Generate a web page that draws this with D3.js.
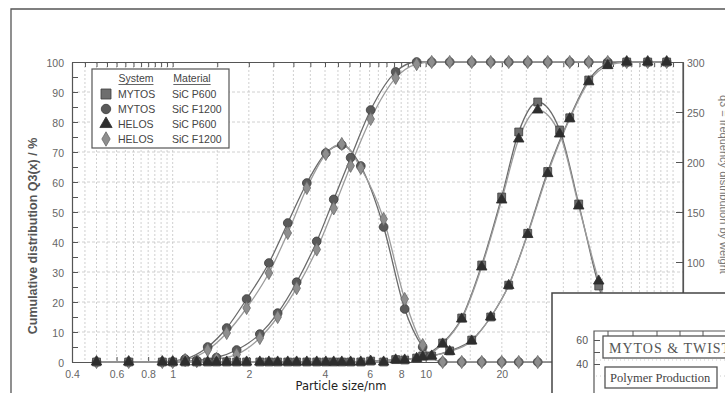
<!DOCTYPE html>
<html>
<head>
<meta charset="utf-8">
<script src="https://cdn.jsdelivr.net/npm/d3@7"></script>
<style>
  body { margin: 0; background: #fff; }
  svg { display: block; font-family: "Liberation Sans", Arial, sans-serif; }
</style>
</head>
<body>
<svg id="chart" width="725" height="393"></svg>
<script>
// particle sizes (nm) of the measuring classes
const densSizes = [0.50, 0.67, 0.91, 1.12, 1.375, 1.635, 1.96, 2.40, 2.85, 3.39, 4.03, 4.66, 5.54, 6.82,
  8.26, 9.73, 11.67, 13.88, 16.65, 19.97, 23.32, 27.72, 33.85, 40.25, 48.3, 57.5, 68.5, 81.5, 97];
const cumSizes = [1.0, 1.245, 1.49, 1.79, 2.21, 2.60, 3.09, 3.71, 4.33, 5.05, 6.06, 7.61, 9.21,
  10.56, 12.44, 15.2, 18.07, 21.29, 25.31, 30.36, 37.09, 44.1, 52.42, 62.31, 75.43, 89.65];

// cumulative distribution Q3 (%), left axis
const cumMytosP600  = [0, 0, 0, 0, 0, 0, 0, 0, 0, 0, 0.3, 0.8, 1.3, 2, 3.7, 7.3, 15, 25.6, 42.9, 63.5, 81.4, 94, 99.3, 100, 100, 100];
const cumMytosF1200 = [0, 0.5, 1.5, 4, 9.3, 16.3, 26.6, 40.2, 54.2, 68.1, 84, 96.7, 100, 100, 100, 100, 100, 100, 100, 100, 100, 100, 100, 100, 100, 100];
const cumHelosP600  = [0, 0, 0, 0, 0, 0, 0, 0, 0, 0, 0.3, 0.7, 1.2, 2, 3.5, 7, 15, 25.5, 42.5, 62.8, 81.1, 93.4, 98.8, 100, 100, 100];
const cumHelosF1200 = [0, 0.3, 1, 2.5, 8, 15, 24.6, 37.5, 51.2, 65.4, 81, 94.7, 99.3, 100, 100, 100, 100, 100, 100, 100, 100, 100, 100, 100, 100, 100];

// density distribution q3, right axis
const densMytosP600  = [0, 0, 0, 0, 0, 0, 0, 0, 0, 0, 0, 0, 0, 0, 2, 6, 19, 44, 97, 165, 230, 260, 232, 158, 76, 18, 2, 0, 0];
const densMytosF1200 = [0, 0, 0, 3, 15, 34, 63, 99, 139, 179, 209, 217, 196, 135, 53, 15, 0, 0, 0, 0, 0, 0, 0, 0, 0, 0, 0, 0, 0];
const densHelosP600  = [0, 0, 0, 0, 0, 0, 0, 0, 0, 0, 0, 0, 0, 0, 2, 5, 18, 43, 95, 162, 223, 252, 228, 156, 81, 20, 2, 0, 0];
const densHelosF1200 = [0, 0, 0, 2, 12, 29, 54, 89, 129, 174, 208, 218, 194, 143, 63, 17, 0, 0, 0, 0, 0, 0, 0, 0, 0, 0, 0, 0, 0];

const systems = ['MYTOS', 'MYTOS', 'HELOS', 'HELOS'];
const materials = ['SiC P600', 'SiC F1200', 'SiC P600', 'SiC F1200'];

const xTickValues = [0.4, 0.6, 0.8, 1, 2, 4, 6, 8, 10, 20];
const gridSteps = [1, 1.5, 2, 2.5, 3, 3.5, 4, 4.5, 5, 5.5, 6, 6.5, 7, 7.5, 8, 8.5, 9, 9.5];
const yLeftTicks = [0, 10, 20, 30, 40, 50, 60, 70, 80, 90, 100];
const yRightTicks = [100, 150, 200, 250, 300];
const insetTicks = [40, 60];

const M = { left: 72, right: 683, top: 62, bottom: 362 };
const svg = d3.select('#chart');

const x = d3.scaleLog().domain([0.4, 104]).range([M.left, M.right]);
const yL = d3.scaleLinear().domain([0, 100]).range([M.bottom, M.top]);
const yR = d3.scaleLinear().domain([0, 300]).range([M.bottom, M.top]);

const xGrid = [];
[0.1, 1, 10].forEach(dec => gridSteps.forEach(s => {
  const v = +(s * dec).toFixed(3);
  if (v > 0.4 && v < 104) xGrid.push(v);
}));

// outer frame of the scan
svg.append('path').attr('d', 'M11,393V9H725')
  .attr('fill', 'none').attr('stroke', '#555').attr('stroke-width', 1.3);

// grid
const grid = svg.append('g');
grid.selectAll('.gv').data(xGrid).join('line').attr('class', 'gv')
  .attr('x1', d => x(d)).attr('x2', d => x(d))
  .attr('y1', M.top).attr('y2', M.bottom)
  .attr('stroke', '#c4c4c4').attr('stroke-width', 0.8).attr('stroke-dasharray', '2,2');
grid.selectAll('.gh').data(yLeftTicks.slice(1, -1)).join('line').attr('class', 'gh')
  .attr('x1', M.left).attr('x2', M.right)
  .attr('y1', d => yL(d)).attr('y2', d => yL(d))
  .attr('stroke', '#c4c4c4').attr('stroke-width', 0.8).attr('stroke-dasharray', '3,2');

function styleAxis(g) {
  g.select('.domain').attr('stroke', '#555').attr('stroke-width', 1.2);
  g.selectAll('.tick line').attr('stroke', '#555');
  g.selectAll('.tick text').attr('fill', '#666').attr('font-size', 10.5);
}

// axes
svg.append('g').attr('transform', `translate(0,${M.top})`)
  .call(d3.axisTop(x).tickValues(xGrid).tickSize(-5).tickFormat('').tickSizeOuter(0))
  .call(styleAxis);
svg.append('g').attr('transform', `translate(0,${M.bottom})`)
  .call(d3.axisBottom(x).tickValues(xTickValues).tickSize(-5).tickPadding(9).tickSizeOuter(0)
    .tickFormat(d => d))
  .call(styleAxis);
svg.append('g').attr('transform', `translate(${M.left},0)`)
  .call(d3.axisLeft(yL).ticks(20).tickSize(-6).tickPadding(8).tickSizeOuter(0)
    .tickFormat(d => d % 10 === 0 ? d : ''))
  .call(styleAxis)
  .call(g => g.selectAll('.tick text').attr('dy', '0.45em'));
svg.append('g').attr('transform', `translate(${M.right},0)`)
  .call(d3.axisRight(yR).tickValues(yRightTicks).tickSize(-7).tickPadding(4).tickSizeOuter(0))
  .call(styleAxis)
  .call(g => g.selectAll('.tick text').attr('dy', '0.45em'));
// right axis line continues under the inset
svg.append('line').attr('x1', M.right).attr('x2', M.right).attr('y1', M.top).attr('y2', M.bottom)
  .attr('stroke', '#555').attr('stroke-width', 1.2);

// axis titles
svg.append('text')
  .attr('transform', 'translate(37,236) rotate(-90)')
  .attr('text-anchor', 'middle').attr('font-size', 12.5).attr('font-weight', 'bold')
  .attr('fill', '#555').text('Cumulative distribution Q3(x) / %');
svg.append('text')
  .attr('x', 341).attr('y', 390).attr('text-anchor', 'middle')
  .attr('font-family', '"DejaVu Sans", sans-serif')
  .attr('font-size', 11.5).attr('fill', '#222').text('Particle size/nm');
svg.append('text')
  .attr('transform', 'translate(720,95) rotate(90)')
  .attr('font-size', 11).attr('fill', '#777').text('q3 = frequency distribution by weight');

// series
const series = [
  { i: 1, cum: cumMytosF1200, dens: densMytosF1200, sym: d3.symbolCircle, size: 60, fill: '#5a5a5a', stroke: '#3a3a3a', line: '#6a6a6a' },
  { i: 3, cum: cumHelosF1200, dens: densHelosF1200, sym: d3.symbolDiamond, size: 50, fill: '#8e8e8e', stroke: '#6a6a6a', line: '#9c9c9c' },
  { i: 0, cum: cumMytosP600, dens: densMytosP600, sym: d3.symbolSquare, size: 62, fill: '#6e6e6e', stroke: '#3c3c3c', line: '#6a6a6a' },
  { i: 2, cum: cumHelosP600, dens: densHelosP600, sym: d3.symbolTriangle, size: 48, fill: '#2e2e2e', stroke: '#2e2e2e', line: '#9c9c9c' }
];

const lineL = d3.line().x(d => x(d[0])).y(d => yL(d[1])).curve(d3.curveMonotoneX);
const lineR = d3.line().x(d => x(d[0])).y(d => yR(d[1])).curve(d3.curveMonotoneX);

series.forEach(s => {
  s.cumPts = cumSizes.map((v, k) => [v, s.cum[k]]);
  s.densPts = densSizes.map((v, k) => [v, s.dens[k]]);
});

const lines = svg.append('g');
series.forEach(s => {
  lines.append('path').attr('d', lineL(s.cumPts))
    .attr('fill', 'none').attr('stroke', s.line).attr('stroke-width', 1.3);
  lines.append('path').attr('d', lineR(s.densPts))
    .attr('fill', 'none').attr('stroke', s.line).attr('stroke-width', 1.3);
});

const marks = svg.append('g');
series.forEach(s => {
  const sym = d3.symbol().type(s.sym).size(s.size);
  const pts = s.cumPts.map(p => [x(p[0]), yL(p[1])])
    .concat(s.densPts.map(p => [x(p[0]), yR(p[1])]));
  marks.append('g').selectAll('path').data(pts).join('path')
    .attr('transform', d => `translate(${d[0]},${d[1]})`)
    .attr('d', sym)
    .attr('fill', s.fill).attr('stroke', s.stroke).attr('stroke-width', 0.8);
});

// legend
const lg = svg.append('g');
lg.append('rect').attr('x', 92).attr('y', 69).attr('width', 137).attr('height', 79)
  .attr('fill', '#fff').attr('stroke', '#555').attr('stroke-width', 1.2);
[['System', 136], ['Material', 192]].forEach(([t, cx]) => {
  const tx = lg.append('text').attr('x', cx).attr('y', 82).attr('text-anchor', 'middle')
    .attr('font-size', 10.5).attr('fill', '#444').text(t);
  const w = tx.node().getComputedTextLength();
  lg.append('line').attr('x1', cx - w / 2).attr('x2', cx + w / 2).attr('y1', 84.5).attr('y2', 84.5)
    .attr('stroke', '#555').attr('stroke-width', 0.9);
});
const legendOrder = [2, 0, 3, 1]; // series index per legend row
const legendSizes = [100, 70, 65, 60];
legendOrder.forEach((si, r) => {
  const s = series[si];
  const yy = 94 + r * 15;
  lg.append('path').attr('transform', `translate(106,${yy})`)
    .attr('d', d3.symbol().type(s.sym).size(legendSizes[r]))
    .attr('fill', s.fill).attr('stroke', s.stroke).attr('stroke-width', 0.8);
  lg.append('text').attr('x', 118).attr('y', yy + 4).attr('font-size', 10.5).attr('fill', '#444')
    .text(systems[s.i]);
  lg.append('text').attr('x', 172).attr('y', yy + 4).attr('font-size', 10.5).attr('fill', '#444')
    .text(materials[s.i]);
});

// overlapping inset picture from the scan
const inset = svg.append('g');
inset.append('rect').attr('x', 552).attr('y', 293).attr('width', 190).attr('height', 120)
  .attr('fill', '#fff').attr('stroke', '#444').attr('stroke-width', 1.5);
const yi = d3.scaleLinear().domain([40, 60]).range([364, 340]);
inset.append('g').attr('transform', 'translate(594,0)')
  .call(d3.axisLeft(yi).tickValues([40, 50, 60]).tickSize(-6).tickPadding(6)
    .tickFormat(d => insetTicks.includes(d) ? d : ''))
  .call(g => g.select('.domain').remove())
  .call(g => g.selectAll('.tick line').attr('stroke', '#555'))
  .call(g => g.selectAll('.tick text').attr('fill', '#555').attr('font-size', 10.5).attr('dy', '0.35em'));
inset.append('path').attr('d', 'M594,393V331H725')
  .attr('fill', 'none').attr('stroke', '#555').attr('stroke-width', 1.2);
inset.selectAll('.it').data([608, 633, 657, 680, 703]).join('line').attr('class', 'it')
  .attr('x1', d => d).attr('x2', d => d).attr('y1', 331).attr('y2', 336)
  .attr('stroke', '#555');
inset.selectAll('.ig').data([360, 376]).join('line').attr('class', 'ig')
  .attr('x1', 596).attr('x2', 725).attr('y1', d => d).attr('y2', d => d)
  .attr('stroke', '#ccc').attr('stroke-dasharray', '1,3');
inset.append('rect').attr('x', 603).attr('y', 336).attr('width', 140).attr('height', 22)
  .attr('fill', '#fff').attr('stroke', '#555').attr('stroke-width', 1.3);
inset.append('text').attr('x', 609).attr('y', 352.5)
  .attr('font-family', '"Liberation Serif", "Times New Roman", serif')
  .attr('font-size', 14).attr('letter-spacing', 1).attr('fill', '#555').text('MYTOS & TWISTER');
inset.append('rect').attr('x', 605).attr('y', 367).attr('width', 112).attr('height', 21)
  .attr('fill', '#fff').attr('stroke', '#555').attr('stroke-width', 1.3);
inset.append('text').attr('x', 610).attr('y', 382)
  .attr('font-family', '"Liberation Serif", "Times New Roman", serif')
  .attr('font-size', 12.5).attr('fill', '#444').text('Polymer Production');
</script>
</body>
</html>
